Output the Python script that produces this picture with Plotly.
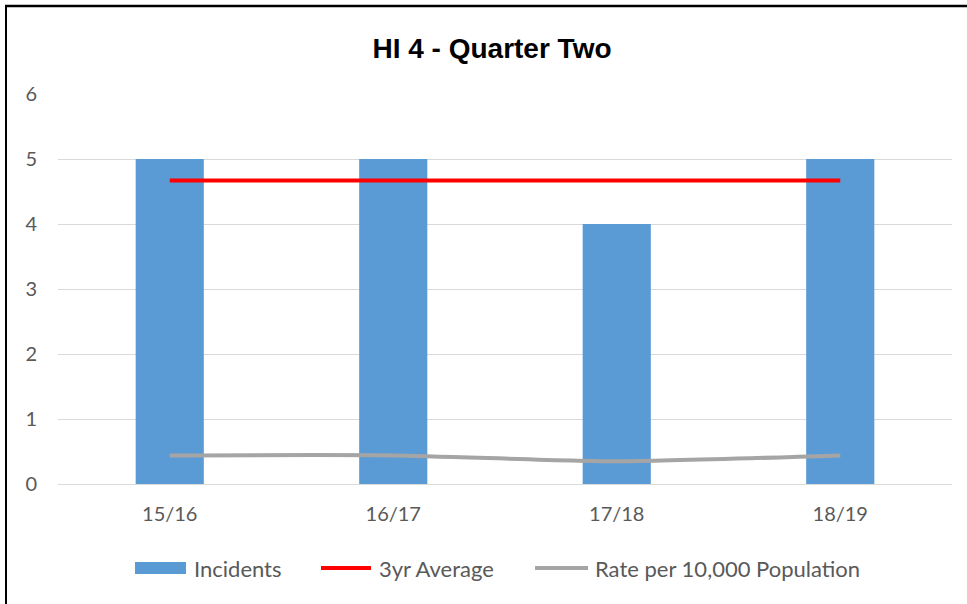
import plotly.graph_objects as go

categories = ["15/16", "16/17", "17/18", "18/19"]
incidents = [5, 5, 4, 5]
avg_3yr = [4.67, 4.67, 4.67, 4.67]
rate_per_10k = [0.44, 0.44, 0.35, 0.44]
y_ticks = [0, 1, 2, 3, 4, 5, 6]
series_names = ["Incidents", "3yr Average", "Rate per 10,000 Population"]
series_colors = ["#5B9BD5", "#FF0000", "#A5A5A5"]

W, H = 967, 604
ml, mr, mt, mb = 58, 15, 94, 120
pw, ph = W - ml - mr, H - mt - mb

tick_font = dict(family="Lato, Liberation Sans, sans-serif", size=20, color="#595959")
legend_font = dict(family="Lato, Liberation Sans, sans-serif", size=22, color="#595959")

fig = go.Figure()
fig.add_trace(go.Bar(x=categories, y=incidents, name=series_names[0],
                     marker=dict(color=series_colors[0], line=dict(width=0)), width=0.305))
fig.add_trace(go.Scatter(x=categories, y=avg_3yr, name=series_names[1], mode="lines",
                         line=dict(color=series_colors[1], width=4)))
fig.add_trace(go.Scatter(x=categories, y=rate_per_10k, name=series_names[2],
                         mode="lines", line=dict(color=series_colors[2], width=4,
                                                 shape="spline", smoothing=0.6)))


def px_x(p):
    return (p - ml) / pw


def px_y(p):
    return (H - mb - p) / ph


# border (top and left edges of the chart frame)
shapes = [
    dict(type="line", xref="paper", yref="paper", x0=px_x(6), x1=px_x(6),
         y0=px_y(5), y1=px_y(H + 5), line=dict(color="black", width=2)),
    dict(type="line", xref="paper", yref="paper", x0=px_x(5), x1=px_x(W + 5),
         y0=px_y(6), y1=px_y(6), line=dict(color="black", width=2.5)),
]
annotations = []

# custom legend (Excel-style swatches)
leg_y = 568
swatch_x = [(135, 186), (321, 371), (535, 588)]
text_x = [192, 377, 593]
for i, name in enumerate(series_names):
    x0, x1 = swatch_x[i]
    if i == 0:
        shapes.append(dict(type="rect", xref="paper", yref="paper",
                           x0=px_x(x0), x1=px_x(x1), y0=px_y(leg_y - 6), y1=px_y(leg_y + 6),
                           fillcolor=series_colors[i], line=dict(width=0)))
    else:
        shapes.append(dict(type="line", xref="paper", yref="paper",
                           x0=px_x(x0), x1=px_x(x1), y0=px_y(leg_y), y1=px_y(leg_y),
                           line=dict(color=series_colors[i], width=4)))
    annotations.append(dict(text=name, xref="paper", yref="paper", x=px_x(text_x[i]),
                            y=px_y(leg_y), xanchor="left", yanchor="middle",
                            showarrow=False, font=legend_font))

fig.update_layout(
    width=W, height=H,
    margin=dict(l=ml, r=mr, t=mt, b=mb),
    paper_bgcolor="white", plot_bgcolor="white",
    title=dict(text="<b>HI 4 - Quarter Two</b>", x=px_x(492), xref="paper", xanchor="center",
               y=1 - 48 / H, yanchor="middle",
               font=dict(family="Liberation Sans, Arial, sans-serif", size=28, color="#000000")),
    showlegend=False,
    hovermode=False,
    xaxis=dict(type="category", tickfont=tick_font, showgrid=False, showline=False,
               ticks="", ticklabelstandoff=16, fixedrange=True),
    yaxis=dict(range=[0, 6], tickvals=y_ticks, tickfont=tick_font, showgrid=True,
               gridcolor="#D9D9D9", gridwidth=1, zeroline=True, zerolinecolor="#D9D9D9",
               zerolinewidth=1, showline=False, ticks="", ticklabelstandoff=20,
               fixedrange=True),
    shapes=shapes,
    annotations=annotations,
)

fig.write_html("out.html", config={"displayModeBar": False},
               post_script="document.body.style.margin='0px';")
